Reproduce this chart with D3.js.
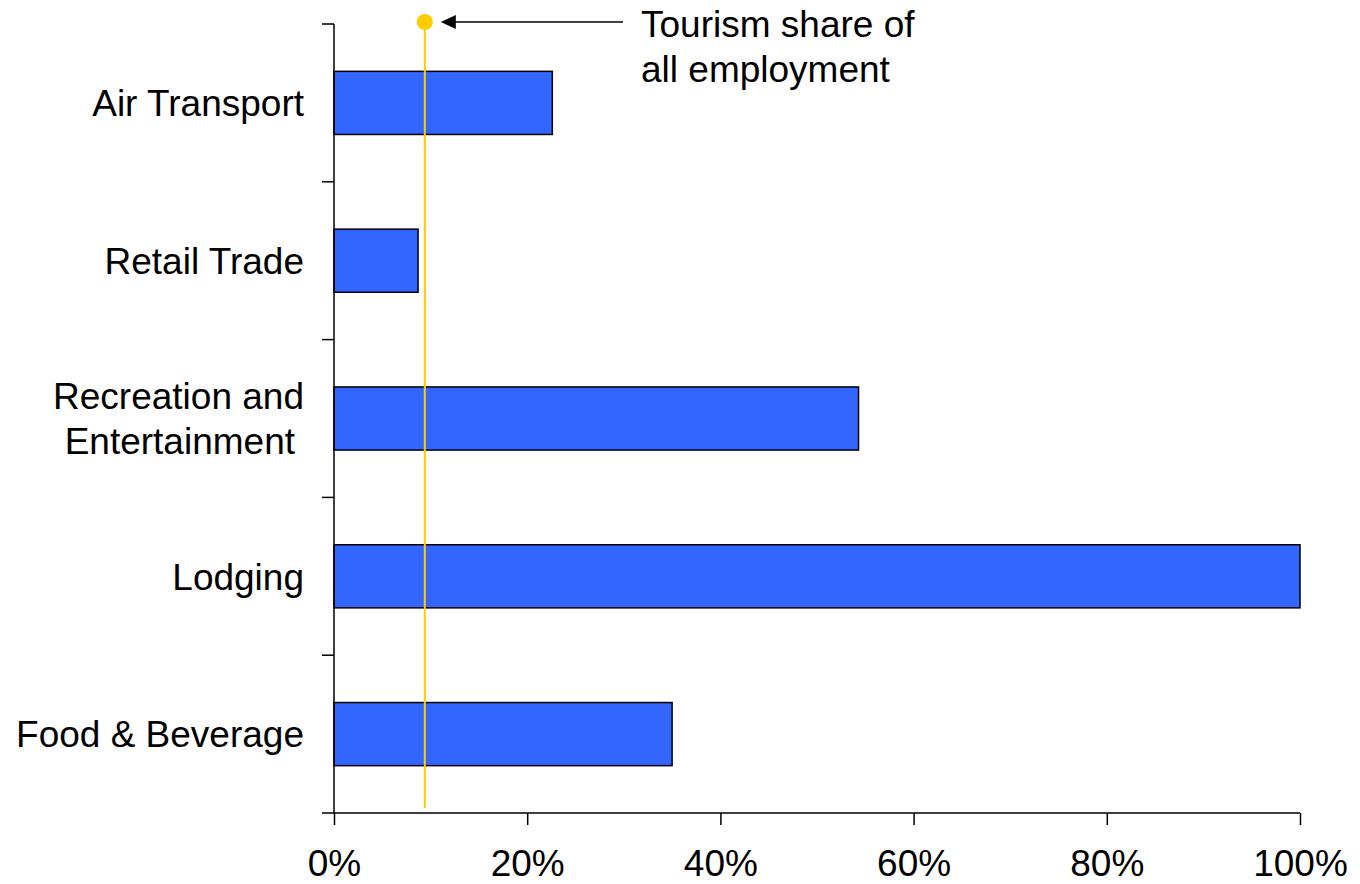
<!DOCTYPE html>
<html>
<head>
<meta charset="utf-8">
<script src="https://cdn.jsdelivr.net/npm/d3@7"></script>
<style>
  html, body { margin: 0; padding: 0; background: #fff; }
  svg { display: block; font-family: "Liberation Sans", Arial, sans-serif; }
</style>
</head>
<body>
<svg id="chart" width="1360" height="884"></svg>
<script>
// Employment share by tourism industry (percent)
const categories = ["Air Transport", "Retail Trade", "Recreation and\nEntertainment", "Lodging", "Food & Beverage"];
const shares = [22.6, 8.7, 54.3, 100, 35.0];
const tourismShareAll = 9.4;
const xTicks = [0, 20, 40, 60, 80, 100];
const annotationLines = ["Tourism share of", "all employment"];

const svg = d3.select("#chart");
const plotLeft = 334, plotRight = 1300, plotTop = 24, plotBottom = 813;
const fontSize = 37;

const x = d3.scaleLinear().domain([0, 100]).range([plotLeft, plotRight]);
const y = d3.scaleBand().domain(categories).range([plotTop, plotBottom])
  .paddingInner(0.6).paddingOuter(0.3);

// Bars
svg.append("g").selectAll("rect")
  .data(categories)
  .join("rect")
  .attr("x", x(0))
  .attr("y", d => y(d))
  .attr("width", (d, i) => x(shares[i]) - x(0))
  .attr("height", y.bandwidth())
  .attr("fill", "#3366FF")
  .attr("stroke", "#000")
  .attr("stroke-width", 1.5);

// Y axis: line with ticks on band boundaries
const yAxis = svg.append("g");
yAxis.append("line")
  .attr("x1", plotLeft).attr("x2", plotLeft)
  .attr("y1", plotTop).attr("y2", plotBottom)
  .attr("stroke", "#000").attr("stroke-width", 1.5);
const boundaries = d3.range(categories.length + 1)
  .map(i => plotTop + i * (plotBottom - plotTop) / categories.length);
yAxis.selectAll("line.tick")
  .data(boundaries)
  .join("line")
  .attr("class", "tick")
  .attr("x1", plotLeft - 12).attr("x2", plotLeft)
  .attr("y1", d => d).attr("y2", d => d)
  .attr("stroke", "#000").attr("stroke-width", 1.5);

// Category labels
const labels = svg.append("g")
  .attr("font-size", fontSize)
  .attr("text-anchor", "end")
  .attr("fill", "#000");
categories.forEach(c => {
  const lines = c.split("\n");
  const cy = y(c) + y.bandwidth() / 2;
  const lh = 45;
  const t = labels.append("text");
  lines.forEach((ln, j) => {
    t.append("tspan")
      .attr("x", j === 1 ? 295 : 304)
      .attr("y", cy + (j - (lines.length - 1) / 2) * lh)
      .attr("dy", "0.36em")
      .text(ln);
  });
});

// X axis
const xAxis = svg.append("g")
  .attr("transform", `translate(0,${plotBottom})`)
  .call(d3.axisBottom(x).tickValues(xTicks).tickFormat(d => d + "%").tickSize(12).tickPadding(25));
xAxis.select(".domain").attr("stroke", "#000").attr("stroke-width", 1.5)
  .attr("d", `M${plotLeft},0H${plotRight}`);
xAxis.selectAll(".tick line").attr("stroke", "#000").attr("stroke-width", 1.5);
xAxis.selectAll(".tick text")
  .attr("font-size", fontSize)
  .attr("font-family", "'Liberation Sans', Arial, sans-serif")
  .attr("fill", "#000");

// Tourism share reference line with marker
const markerY = 22;
svg.append("line")
  .attr("x1", x(tourismShareAll)).attr("x2", x(tourismShareAll))
  .attr("y1", markerY).attr("y2", 808)
  .attr("stroke", "#FFCC00").attr("stroke-width", 2);
svg.append("circle")
  .attr("cx", x(tourismShareAll)).attr("cy", markerY)
  .attr("r", 8)
  .attr("fill", "#FFCC00");

// Annotation arrow and text
const ax = x(tourismShareAll) + 16;
svg.append("line")
  .attr("x1", ax + 12).attr("x2", 623)
  .attr("y1", markerY).attr("y2", markerY)
  .attr("stroke", "#000").attr("stroke-width", 1.5);
svg.append("path")
  .attr("d", `M${ax},${markerY}L${ax + 15},${markerY - 7}L${ax + 15},${markerY + 7}Z`)
  .attr("fill", "#000");
const ann = svg.append("text")
  .attr("font-size", fontSize)
  .attr("fill", "#000");
annotationLines.forEach((ln, j) => {
  ann.append("tspan")
    .attr("x", 641)
    .attr("y", 37 + j * 45)
    .text(ln);
});
</script>
</body>
</html>
